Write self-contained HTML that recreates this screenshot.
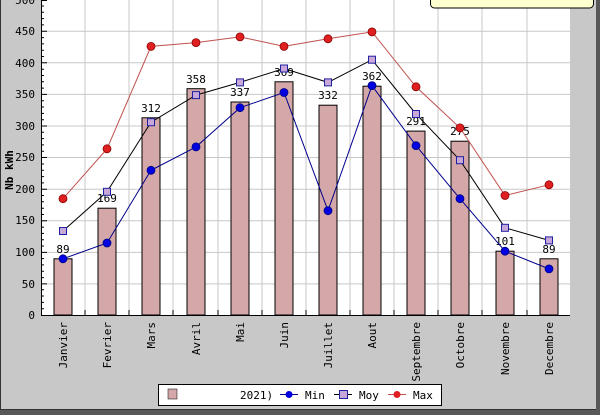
<!DOCTYPE html>
<html><head><meta charset="utf-8"><style>
html,body{margin:0;padding:0;background:#c8c8c8;}
svg{display:block;font-family:"DejaVu Sans Mono","Liberation Mono",monospace;}
</style></head><body>
<svg width="600" height="415" viewBox="0 0 600 415" xmlns="http://www.w3.org/2000/svg">
<rect x="0" y="0" width="600" height="415" fill="#c8c8c8"/>
<rect x="0" y="410" width="600" height="5" fill="#585858"/>
<rect x="596" y="0" width="4" height="415" fill="#585858"/>
<line x1="0.5" y1="0" x2="0.5" y2="410" stroke="#333"/>
<line x1="0" y1="409.5" x2="596" y2="409.5" stroke="#333"/>
<rect x="41" y="0" width="529" height="315" fill="#fff"/>
<g stroke="#c8c8c8" stroke-width="1">
<line x1="41" y1="283.9" x2="570" y2="283.9"/><line x1="41" y1="252.4" x2="570" y2="252.4"/><line x1="41" y1="220.8" x2="570" y2="220.8"/><line x1="41" y1="189.2" x2="570" y2="189.2"/><line x1="41" y1="157.5" x2="570" y2="157.5"/><line x1="41" y1="126" x2="570" y2="126"/><line x1="41" y1="94.4" x2="570" y2="94.4"/><line x1="41" y1="62.8" x2="570" y2="62.8"/><line x1="41" y1="31.2" x2="570" y2="31.2"/>
<line x1="85" y1="0" x2="85" y2="315"/><line x1="129" y1="0" x2="129" y2="315"/><line x1="173" y1="0" x2="173" y2="315"/><line x1="218" y1="0" x2="218" y2="315"/><line x1="262" y1="0" x2="262" y2="315"/><line x1="306" y1="0" x2="306" y2="315"/><line x1="350" y1="0" x2="350" y2="315"/><line x1="394" y1="0" x2="394" y2="315"/><line x1="438" y1="0" x2="438" y2="315"/><line x1="482" y1="0" x2="482" y2="315"/><line x1="527" y1="0" x2="527" y2="315"/>
</g>
<g fill="#d4a8a8" stroke="#000" stroke-width="1">
<rect x="54" y="258.8" width="18" height="56.2"/><rect x="98" y="208.2" width="18" height="106.8"/><rect x="142" y="117.8" width="18" height="197.2"/><rect x="187" y="88.7" width="18" height="226.3"/><rect x="231" y="102" width="18" height="213"/><rect x="275" y="81.8" width="18" height="233.2"/><rect x="319" y="105.2" width="18" height="209.8"/><rect x="363" y="86.2" width="18" height="228.8"/><rect x="407" y="131.1" width="18" height="183.9"/><rect x="451" y="141.2" width="18" height="173.8"/><rect x="496" y="251.2" width="18" height="63.8"/><rect x="540" y="258.8" width="18" height="56.2"/>
</g>
<g font-size="11" fill="#000" text-anchor="middle">
<text x="63" y="253">89</text><text x="107" y="202">169</text><text x="151" y="112">312</text><text x="196" y="83">358</text><text x="240" y="96">337</text><text x="284" y="76">369</text><text x="328" y="99">332</text><text x="372" y="80">362</text><text x="416" y="125">291</text><text x="460" y="135">275</text><text x="505" y="245">101</text><text x="549" y="253">89</text>
</g>
<polyline fill="none" stroke="#c0504d" stroke-width="1" points="63,198.7 107,148.8 151,46.4 196,42.6 240,36.9 284,46.4 328,38.8 372,31.9 416,86.8 460,127.9 505,195.5 549,184.8"/>
<polyline fill="none" stroke="#000" stroke-width="1" points="63,231 107,191.8 151,122.2 196,95.1 240,82.4 284,68.5 328,82.4 372,59.7 416,114 460,160.2 505,227.8 549,240.4"/>
<polyline fill="none" stroke="#00008b" stroke-width="1" points="63,258.8 107,243 151,170.3 196,146.9 240,107.7 284,92.5 328,210.7 372,85.6 416,145.6 460,198.7 505,251.2 549,268.9"/>
<g fill="#e02020" stroke="#800" stroke-width="0.8">
<circle cx="63" cy="198.7" r="4"/><circle cx="107" cy="148.8" r="4"/><circle cx="151" cy="46.4" r="4"/><circle cx="196" cy="42.6" r="4"/><circle cx="240" cy="36.9" r="4"/><circle cx="284" cy="46.4" r="4"/><circle cx="328" cy="38.8" r="4"/><circle cx="372" cy="31.9" r="4"/><circle cx="416" cy="86.8" r="4"/><circle cx="460" cy="127.9" r="4"/><circle cx="505" cy="195.5" r="4"/><circle cx="549" cy="184.8" r="4"/>
</g>
<g fill="#c8a8d8" stroke="#2020a0" stroke-width="1">
<rect x="59.5" y="227.5" width="7" height="7"/><rect x="103.5" y="188.3" width="7" height="7"/><rect x="147.5" y="118.7" width="7" height="7"/><rect x="192.5" y="91.6" width="7" height="7"/><rect x="236.5" y="78.9" width="7" height="7"/><rect x="280.5" y="65" width="7" height="7"/><rect x="324.5" y="78.9" width="7" height="7"/><rect x="368.5" y="56.2" width="7" height="7"/><rect x="412.5" y="110.5" width="7" height="7"/><rect x="456.5" y="156.7" width="7" height="7"/><rect x="501.5" y="224.3" width="7" height="7"/><rect x="545.5" y="236.9" width="7" height="7"/>
</g>
<g fill="#0000e0" stroke="#000080" stroke-width="0.8">
<circle cx="63" cy="258.8" r="4"/><circle cx="107" cy="243" r="4"/><circle cx="151" cy="170.3" r="4"/><circle cx="196" cy="146.9" r="4"/><circle cx="240" cy="107.7" r="4"/><circle cx="284" cy="92.5" r="4"/><circle cx="328" cy="210.7" r="4"/><circle cx="372" cy="85.6" r="4"/><circle cx="416" cy="145.6" r="4"/><circle cx="460" cy="198.7" r="4"/><circle cx="505" cy="251.2" r="4"/><circle cx="549" cy="268.9" r="4"/>
</g>
<line x1="41.5" y1="0" x2="41.5" y2="315" stroke="#000"/>
<line x1="41" y1="315.5" x2="570" y2="315.5" stroke="#000"/>
<g stroke="#000" stroke-width="1">
<path d="M41 283.9h6M41 252.4h6M41 220.8h6M41 189.2h6M41 157.5h6M41 126h6M41 94.4h6M41 62.8h6M41 31.2h6M41 0.5h6"/>
<path d="M41 308.7h3M41 302.4h3M41 296.0h3M41 289.7h3M41 277.6h3M41 271.2h3M41 264.9h3M41 258.6h3M41 246.0h3M41 239.7h3M41 233.4h3M41 227.1h3M41 214.5h3M41 208.2h3M41 201.8h3M41 195.5h3M41 182.9h3M41 176.6h3M41 170.3h3M41 164.0h3M41 151.2h3M41 144.9h3M41 138.6h3M41 132.3h3M41 119.7h3M41 113.4h3M41 107.0h3M41 100.7h3M41 88.1h3M41 81.8h3M41 75.5h3M41 69.2h3M41 56.5h3M41 50.2h3M41 43.9h3M41 37.6h3M41 24.9h3M41 18.6h3M41 12.3h3M41 6.0h3"/>
<path d="M85 315v-5M129 315v-5M173 315v-5M218 315v-5M262 315v-5M306 315v-5M350 315v-5M394 315v-5M438 315v-5M482 315v-5M527 315v-5"/>
</g>
<g font-size="11" fill="#000" text-anchor="end">
<text x="35" y="319">0</text><text x="35" y="288">50</text><text x="35" y="256">100</text><text x="35" y="224">150</text><text x="35" y="193">200</text><text x="35" y="161">250</text><text x="35" y="130">300</text><text x="35" y="98">350</text><text x="35" y="67">400</text><text x="35" y="35">450</text><text x="35" y="4">500</text>
</g>
<text transform="translate(13,170) rotate(-90)" font-size="11" font-weight="bold" text-anchor="middle">Nb kWh</text>
<g font-size="11" fill="#000" text-anchor="end">
<text transform="translate(67,322) rotate(-90)">Janvier</text>
<text transform="translate(111,322) rotate(-90)">Fevrier</text>
<text transform="translate(155,322) rotate(-90)">Mars</text>
<text transform="translate(200,322) rotate(-90)">Avril</text>
<text transform="translate(244,322) rotate(-90)">Mai</text>
<text transform="translate(288,322) rotate(-90)">Juin</text>
<text transform="translate(332,322) rotate(-90)">Juillet</text>
<text transform="translate(376,322) rotate(-90)">Aout</text>
<text transform="translate(420,322) rotate(-90)">Septembre</text>
<text transform="translate(464,322) rotate(-90)">Octobre</text>
<text transform="translate(509,322) rotate(-90)">Novembre</text>
<text transform="translate(553,322) rotate(-90)">Decembre</text>
</g>
<rect x="158.5" y="384.5" width="283" height="21" fill="#fff" stroke="#000"/>
<rect x="168" y="389" width="9" height="10" fill="#d4a8a8" stroke="#000" stroke-width="0.5"/>
<rect x="180" y="387" width="60" height="18" fill="#fff"/>
<text x="240" y="399" font-size="11">2021)</text>
<line x1="280" y1="394.5" x2="298" y2="394.5" stroke="#00008b"/>
<circle cx="289" cy="394.5" r="3.5" fill="#0000e0"/>
<text x="305" y="399" font-size="11">Min</text>
<line x1="334" y1="394.5" x2="352" y2="394.5" stroke="#000"/>
<rect x="339.5" y="390.5" width="8" height="8" fill="#c8a8d8" stroke="#2020a0"/>
<text x="359" y="399" font-size="11">Moy</text>
<line x1="388" y1="394.5" x2="406" y2="394.5" stroke="#c0504d"/>
<circle cx="397" cy="394.5" r="3.5" fill="#e02020"/>
<text x="413" y="399" font-size="11">Max</text>
<rect x="430.5" y="-6" width="163" height="14" rx="4" fill="#ffffd0" stroke="#000"/>
</svg>
</body></html>
